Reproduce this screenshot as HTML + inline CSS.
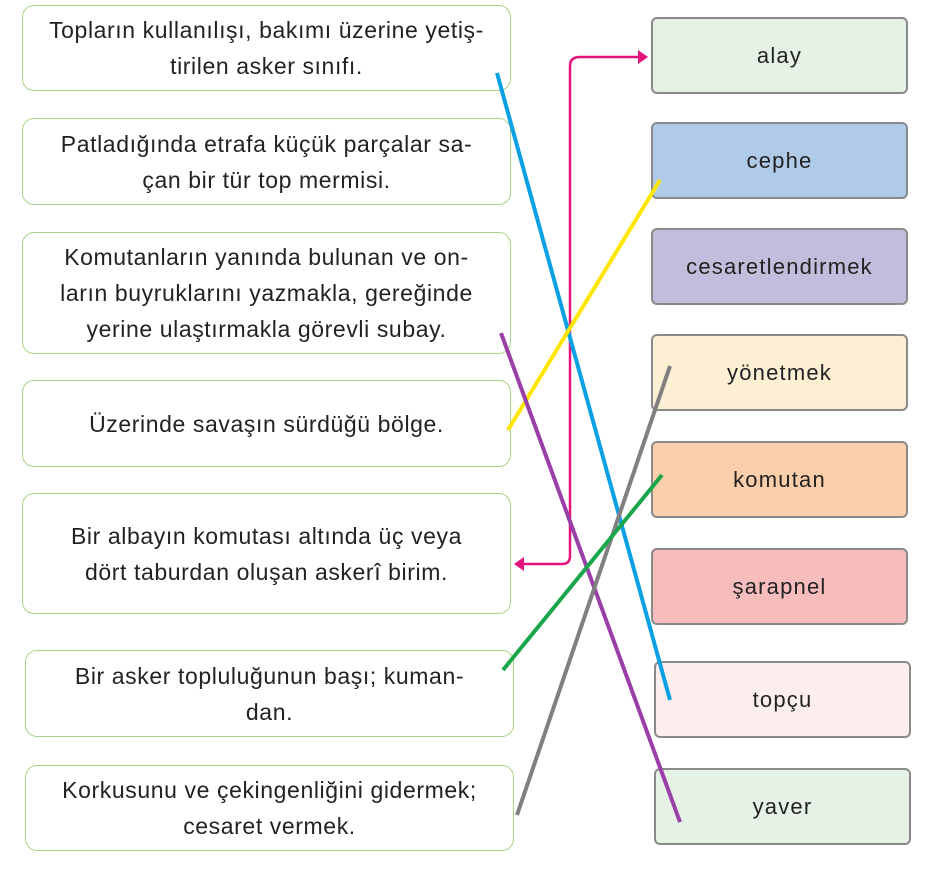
<!DOCTYPE html>
<html><head><meta charset="utf-8"><style>
body{margin:0;width:936px;height:869px;background:#fff;position:relative;overflow:hidden;font-family:"Liberation Sans",sans-serif;color:#222}
.l{position:absolute;border:1.5px solid #a8d48a;border-radius:12px;box-sizing:border-box;display:flex;align-items:center;justify-content:center;text-align:center;font-size:23px;letter-spacing:0.6px;line-height:36px;padding:0 4px;white-space:nowrap}
.r{position:absolute;border:2px solid #8a8a8a;border-radius:6px;box-sizing:border-box;display:flex;align-items:center;justify-content:center;font-size:22px;letter-spacing:1.2px;width:257px;height:77px}
svg{position:absolute;left:0;top:0}
</style></head><body>
<div class="l" style="left:22px;top:5px;width:489px;height:86px">Topların kullanılışı, bakımı üzerine yetiş-<br>tirilen asker sınıfı.</div>
<div class="l" style="left:22px;top:118px;width:489px;height:87px">Patladığında etrafa küçük parçalar sa-<br>çan bir tür top mermisi.</div>
<div class="l" style="left:22px;top:232px;width:489px;height:122px">Komutanların yanında bulunan ve on-<br>ların buyruklarını yazmakla, gereğinde<br>yerine ulaştırmakla görevli subay.</div>
<div class="l" style="left:22px;top:380px;width:489px;height:87px">Üzerinde savaşın sürdüğü bölge.</div>
<div class="l" style="left:22px;top:493px;width:489px;height:121px">Bir albayın komutası altında üç veya<br>dört taburdan oluşan askerî birim.</div>
<div class="l" style="left:25px;top:650px;width:489px;height:87px">Bir asker topluluğunun başı; kuman-<br>dan.</div>
<div class="l" style="left:25px;top:765px;width:489px;height:86px">Korkusunu ve çekingenliğini gidermek;<br>cesaret vermek.</div>

<div class="r" style="left:651px;top:17px;background:#e6f2e6">alay</div>
<div class="r" style="left:651px;top:122px;background:#b0cbe8">cephe</div>
<div class="r" style="left:651px;top:228px;background:#c1bddc">cesaretlendirmek</div>
<div class="r" style="left:651px;top:334px;background:#fdefd3">yönetmek</div>
<div class="r" style="left:651px;top:441px;background:#fbcfab">komutan</div>
<div class="r" style="left:651px;top:548px;background:#f7bcbc">şarapnel</div>
<div class="r" style="left:654px;top:661px;background:#fdeeee">topçu</div>
<div class="r" style="left:654px;top:768px;background:#e6f2e6">yaver</div>

<svg width="936" height="869">
<path d="M524,564 H562 Q570,564 570,556 V66 Q570,57 580,57 H640" fill="none" stroke="#e4147f" stroke-width="2.5"/>
<polygon points="648,57 638,50 638,64" fill="#e4147f"/>
<polygon points="514,564 524,557 524,571" fill="#e4147f"/>
<line x1="497" y1="73" x2="670" y2="700" stroke="#0aa0e4" stroke-width="4"/>
<line x1="508" y1="430" x2="660" y2="180" stroke="#ffe600" stroke-width="4"/>
<line x1="501" y1="333" x2="680" y2="822" stroke="#9a3fa8" stroke-width="4"/>
<line x1="517" y1="815" x2="670" y2="366" stroke="#808080" stroke-width="4"/>
<line x1="503" y1="670" x2="662" y2="475" stroke="#1aa64a" stroke-width="4"/>
</svg>
</body></html>
